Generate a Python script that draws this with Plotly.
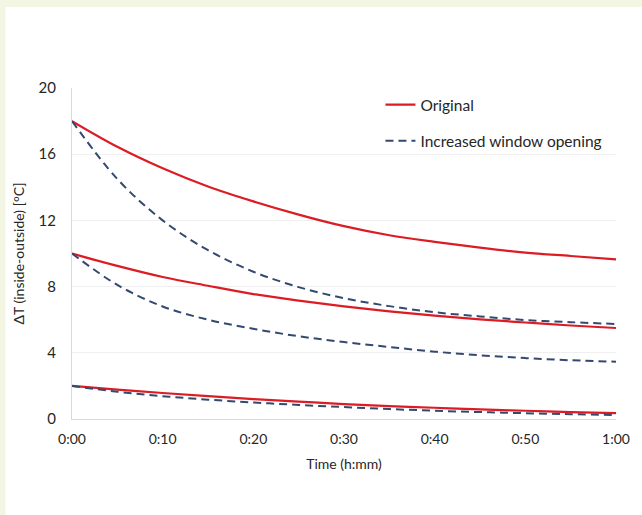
import plotly.graph_objects as go

minutes = [0, 5, 10, 15, 20, 25, 30, 35, 40, 45, 50, 55, 60]
tick_vals = [0, 10, 20, 30, 40, 50, 60]
tick_text = ["0:00", "0:10", "0:20", "0:30", "0:40", "0:50", "1:00"]
y_ticks = [0, 4, 8, 12, 16, 20]

orig_18 = [18.0, 16.45, 15.15, 14.05, 13.15, 12.35, 11.65, 11.1, 10.7, 10.35, 10.05, 9.85, 9.65]
orig_10 = [10.0, 9.25, 8.58, 8.05, 7.55, 7.15, 6.8, 6.5, 6.25, 6.02, 5.83, 5.65, 5.5]
orig_2 = [2.0, 1.78, 1.57, 1.38, 1.2, 1.05, 0.9, 0.78, 0.68, 0.58, 0.5, 0.42, 0.36]

win_18 = [18.0, 14.5, 12.0, 10.2, 8.9, 7.97, 7.3, 6.82, 6.45, 6.2, 5.98, 5.85, 5.74]
win_10 = [10.0, 8.1, 6.8, 6.0, 5.45, 5.0, 4.65, 4.35, 4.07, 3.85, 3.68, 3.55, 3.46]
win_2 = [2.0, 1.65, 1.38, 1.17, 1.0, 0.85, 0.72, 0.6, 0.5, 0.42, 0.35, 0.29, 0.24]

RED = "#dc1c24"
BLUE = "#34496f"

fig = go.Figure()

for i, ys in enumerate([orig_18, orig_10, orig_2]):
    fig.add_trace(go.Scatter(
        x=minutes, y=ys, mode="lines", name="Original",
        line=dict(color=RED, width=2.2, shape="spline"),
        legendgroup="orig", showlegend=(i == 0)))

for i, ys in enumerate([win_18, win_10, win_2]):
    fig.add_trace(go.Scatter(
        x=minutes, y=ys, mode="lines", name="Increased window opening",
        line=dict(color=BLUE, width=2, dash="8px,5px", shape="spline"),
        legendgroup="win", showlegend=(i == 0)))

L, R, T, B = 72, 22, 88, 96
W, H = 642, 515
pw, ph = W - L - R, H - T - B

# white card on the cream background (card starts at x=5, y=7)
fig.add_shape(type="rect", xref="paper", yref="paper",
              x0=(5 - L) / pw, x1=(W - L) / pw + 0.01,
              y0=-B / ph - 0.01, y1=(H - 7 - B) / ph,
              fillcolor="white", line=dict(width=0), layer="below")

font = "Lato, 'Open Sans', sans-serif"

fig.update_layout(
    width=W, height=H,
    margin=dict(l=L, r=R, t=T, b=B),
    paper_bgcolor="#f3f6e3",
    plot_bgcolor="white",
    font=dict(family=font, size=14, color="#262626"),
    showlegend=True,
    legend=dict(x=0.567, y=1.0, xanchor="left", yanchor="top",
                bgcolor="rgba(0,0,0,0)", tracegroupgap=13,
                font=dict(size=15.5, color="#262626")),
    xaxis=dict(range=[0, 60], tickvals=tick_vals, ticktext=tick_text,
               showgrid=False, showline=True, linecolor="#d9d9d9", linewidth=1,
               ticks="outside", ticklen=7, tickcolor="rgba(0,0,0,0)", zeroline=False,
               tickfont=dict(size=14),
               title=dict(text="Time (h:mm)", font=dict(size=14), standoff=13)),
    yaxis=dict(range=[0, 20], tickvals=y_ticks,
               showgrid=True, gridcolor="#efefef", gridwidth=1,
               showline=True, linecolor="#d9d9d9", linewidth=1,
               ticks="outside", ticklen=12, tickcolor="rgba(0,0,0,0)", zeroline=False,
               tickfont=dict(size=15),
               title=dict(text="ΔT (inside-outside) [°C]", font=dict(size=14), standoff=10)),
)

fig.write_html("out.html", config={"displayModeBar": False},
               post_script="document.body.style.margin='0';document.body.style.background='#f3f6e3';")
